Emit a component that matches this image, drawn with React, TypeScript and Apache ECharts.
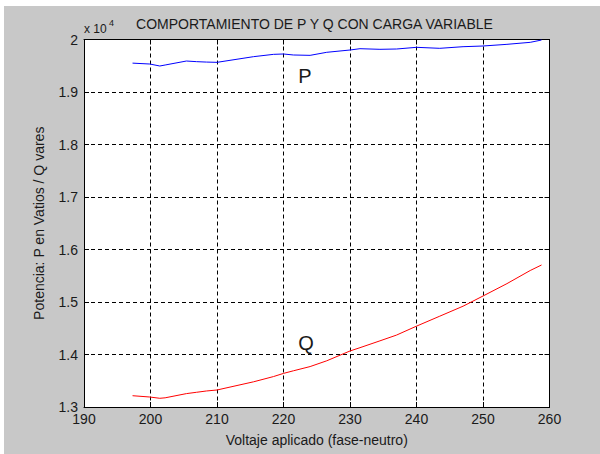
import React, { useEffect, useRef } from "react";
import * as echarts from "echarts";

const voltage = [197.3, 199.9, 201.4, 202.2, 205.4, 206.9, 208.4, 210, 215.5, 218.5, 220, 221.5, 224, 226.5, 230, 231.5, 234.5, 237, 240, 243.5, 247, 250, 253.6, 257.1, 258.8];
const potenciaP = [19550, 19533, 19495, 19514, 19590, 19578, 19570, 19565, 19673, 19717, 19724, 19705, 19698, 19756, 19800, 19825, 19813, 19819, 19851, 19832, 19863, 19876, 19908, 19946, 19990];
const potenciaQ = [13215, 13190, 13166, 13175, 13255, 13280, 13305, 13324, 13480, 13580, 13640, 13690, 13770, 13880, 14067, 14130, 14260, 14370, 14540, 14730, 14920, 15114, 15350, 15600, 15705];

const xMin = 190, xMax = 260, xStep = 10;
const yMin = 13000, yMax = 20000, yStep = 1000;
const yScale = 10000;

const titleText = "COMPORTAMIENTO DE P Y Q CON CARGA VARIABLE";
const xName = "Voltaje aplicado (fase-neutro)";
const yName = "Potencia: P en Vatios / Q vares";

const FONT = "'Liberation Sans', Arial, sans-serif";

export default function App() {
  const ref = useRef<HTMLDivElement>(null);
  useEffect(() => {
    if (!ref.current) return;
    const chart = echarts.init(ref.current, undefined, { renderer: "svg" });
    const grid = { left: 80, right: 50.5, top: 33.5, bottom: 47 };
    const dashed = { show: true, lineStyle: { color: "#000", width: 1, type: [4, 3] as any } };
    const tickFmt = (v: number) => String(Math.round((v / yScale) * 10) / 10);
    const axisLine = { show: true, lineStyle: { color: "#000", width: 1 } };
    const tick = { show: true, inside: true, length: 5, lineStyle: { color: "#000" } };
    const label = { color: "#1a1a1a", fontFamily: FONT, fontSize: 14 };
    chart.setOption({
      animation: false,
      backgroundColor: "#c8c8c8",
      grid: { ...grid, show: true, backgroundColor: "#ffffff", borderWidth: 0 },
      xAxis: [
        {
          type: "value", min: xMin, max: xMax, interval: xStep,
          axisLine, axisTick: tick, splitLine: dashed,
          axisLabel: { ...label, margin: 5 },
          name: xName, nameLocation: "middle", nameGap: 26,
          nameTextStyle: { color: "#1a1a1a", fontFamily: FONT, fontSize: 14 },
        },
        {
          type: "value", position: "top", min: xMin, max: xMax, interval: xStep,
          axisLine, axisTick: tick, splitLine: { show: false }, axisLabel: { show: false },
        },
      ],
      yAxis: [
        {
          type: "value", min: yMin, max: yMax, interval: yStep,
          axisLine, axisTick: tick, splitLine: dashed,
          axisLabel: { ...label, margin: 6, formatter: tickFmt },
          name: yName, nameLocation: "middle", nameGap: 38,
          nameTextStyle: { color: "#1a1a1a", fontFamily: FONT, fontSize: 14 },
        },
        {
          type: "value", position: "right", min: yMin, max: yMax, interval: yStep,
          axisLine, axisTick: tick, splitLine: { show: false }, axisLabel: { show: false },
        },
      ],
      series: [
        {
          name: "P", type: "line", showSymbol: false, symbol: "none",
          data: voltage.map((v, i) => [v, potenciaP[i]]),
          lineStyle: { color: "#0000ff", width: 1 },
        },
        {
          name: "Q", type: "line", showSymbol: false, symbol: "none",
          data: voltage.map((v, i) => [v, potenciaQ[i]]),
          lineStyle: { color: "#ff0000", width: 1 },
        },
      ],
      graphic: [
        {
          type: "text", x: 310.5, y: 17.5,
          style: { text: titleText, fill: "#1a1a1a", font: `14px ${FONT}`, textAlign: "center", textVerticalAlign: "middle" },
        },
        {
          type: "text", x: 80, y: 23,
          style: { text: "x 10", fill: "#1a1a1a", font: `12px ${FONT}`, textAlign: "left", textVerticalAlign: "middle" },
        },
        {
          type: "text", x: 105, y: 17,
          style: { text: "4", fill: "#1a1a1a", font: `9px ${FONT}`, textAlign: "left", textVerticalAlign: "middle" },
        },
        {
          type: "text", x: 301, y: 70,
          style: { text: "P", fill: "#1a1a1a", font: `20px ${FONT}`, textAlign: "center", textVerticalAlign: "middle" },
        },
        {
          type: "text", x: 302, y: 337,
          style: { text: "Q", fill: "#1a1a1a", font: `20px ${FONT}`, textAlign: "center", textVerticalAlign: "middle" },
        },
      ],
    });
    return () => chart.dispose();
  }, []);
  return (
    <div style={{ position: "absolute", left: 0, top: 0, width: 600, height: 454, background: "#ffffff" }}>
      <div ref={ref} style={{ position: "absolute", left: 4, top: 6, width: 596, height: 448 }} />
    </div>
  );
}
